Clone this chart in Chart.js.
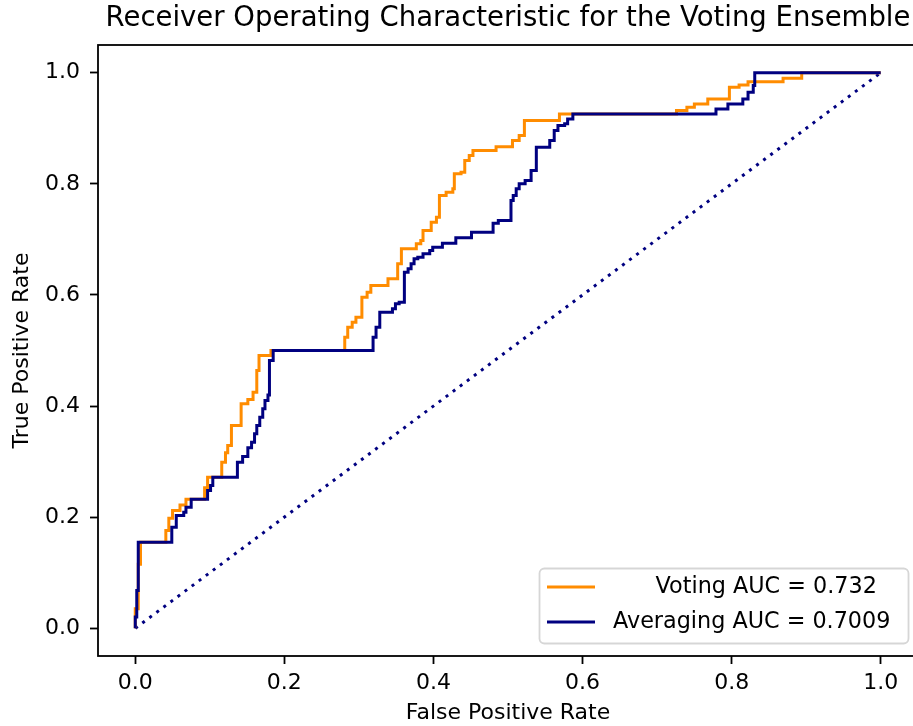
<!DOCTYPE html>
<html>
<head>
<meta charset="utf-8">
<script src="https://cdn.jsdelivr.net/npm/chart.js@4/dist/chart.umd.min.js"></script>
<style>
html,body{margin:0;padding:0;background:#fff;overflow:hidden;}
#wrap{width:920px;height:726px;}
</style>
</head>
<body>
<div id="wrap"><canvas id="c" width="920" height="726"></canvas></div>
<script>
const titleText = 'Receiver Operating Characteristic for the Voting Ensemble';
const xAxisLabel = 'False Positive Rate';
const yAxisLabel = 'True Positive Rate';
const seriesLabels = ['      Voting AUC = 0.732', 'Averaging AUC = 0.7009'];
const seriesColors = ['#ff8c00', '#000080'];
const chanceColor = '#000080';

// ROC step points: at each fpr the tpr rises to the given value
const votingFpr = [0,0,0.004,0.007,0.041,0.045,0.05,0.06,0.068,0.093,0.097,0.116,0.121,0.124,0.129,0.142,0.151,0.158,0.163,0.166,0.182,
  0.281,0.285,0.291,0.296,0.304,0.311,0.316,0.339,0.352,0.357,0.377,0.383,0.386,0.397,0.404,0.408,0.417,0.426,0.428,0.437,0.442,0.448,0.453,
  0.484,0.506,0.515,0.522,0.569,0.726,0.74,0.75,0.768,0.797,0.81,0.822,0.869,0.894,1.0];
const votingTpr = [0,0.035,0.115,0.155,0.176,0.198,0.212,0.222,0.232,0.253,0.272,0.299,0.316,0.329,0.365,0.404,0.412,0.425,0.464,0.491,0.5,
  0.524,0.542,0.551,0.56,0.596,0.605,0.617,0.629,0.656,0.683,0.692,0.698,0.716,0.731,0.74,0.779,0.785,0.791,0.818,0.821,0.842,0.851,0.86,
  0.867,0.878,0.887,0.914,0.926,0.932,0.938,0.944,0.953,0.974,0.978,0.984,0.99,1.0,1.0];

const averagingFpr = [0,0,0.002,0.004,0.049,0.055,0.065,0.068,0.075,0.097,0.101,0.104,0.137,0.144,0.151,0.156,0.16,0.163,0.167,0.171,0.174,0.178,0.18,0.185,
  0.319,0.323,0.328,0.345,0.349,0.354,0.361,0.366,0.37,0.374,0.379,0.386,0.395,0.399,0.412,0.43,0.451,0.48,0.487,0.504,0.507,0.511,0.515,0.523,0.531,0.538,
  0.556,0.562,0.567,0.576,0.58,0.587,0.779,0.795,0.815,0.822,0.829,0.831,1.0];
const averagingTpr = [0,0.02,0.068,0.155,0.182,0.203,0.209,0.218,0.232,0.248,0.257,0.272,0.299,0.309,0.325,0.335,0.35,0.365,0.38,0.395,0.41,0.42,0.482,0.5,
  0.524,0.542,0.569,0.575,0.584,0.587,0.641,0.647,0.656,0.665,0.668,0.674,0.68,0.686,0.693,0.703,0.713,0.729,0.734,0.77,0.779,0.791,0.8,0.806,0.824,0.866,
  0.878,0.896,0.905,0.908,0.917,0.926,0.935,0.944,0.953,0.965,0.977,1.0,1.0];

const chanceFpr = [0, 1];
const chanceTpr = [0, 1];

const xTickValues = [0, 0.2, 0.4, 0.6, 0.8, 1.0];
const yTickValues = [0, 0.2, 0.4, 0.6, 0.8, 1.0];

const FONT = 'DejaVu Sans';
const toPts = (xs, ys) => xs.map((x, i) => ({x: x, y: ys[i]}));

const framePlugin = {
  id: 'frame',
  afterDatasetsDraw(chart) {
    const a = chart.chartArea, c = chart.ctx;
    c.save();
    c.strokeStyle = '#000';
    c.lineWidth = 1.8;
    c.strokeRect(a.left, a.top, a.right - a.left, a.bottom - a.top);
    c.restore();
  }
};

const legendPlugin = {
  id: 'boxLegend',
  afterDraw(chart) {
    const a = chart.chartArea, ctx = chart.ctx;
    const w = 369, h = 75;
    const x0 = a.right - 10 - w, y0 = a.bottom - 13 - h;
    ctx.save();
    ctx.beginPath();
    ctx.roundRect(x0 + 0.5, y0 + 0.5, w, h, 5);
    ctx.fillStyle = 'rgba(255,255,255,0.8)';
    ctx.fill();
    ctx.strokeStyle = 'rgba(204,204,204,0.8)';
    ctx.lineWidth = 1.8;
    ctx.stroke();
    ctx.font = '22.3px "' + FONT + '"';
    ctx.textBaseline = 'middle';
    chart.data.datasets.slice(0, 2).forEach((ds, i) => {
      const cy = y0 + 19 + i * 35;
      ctx.beginPath();
      ctx.moveTo(x0 + 8, cy);
      ctx.lineTo(x0 + 56, cy);
      ctx.strokeStyle = ds.borderColor;
      ctx.lineWidth = 3;
      ctx.stroke();
      ctx.fillStyle = '#000';
      ctx.fillText(ds.label, x0 + 74, cy);
    });
    ctx.restore();
  }
};

const tickFmt = v => Number(v).toFixed(1);

new Chart(document.getElementById('c'), {
  type: 'line',
  data: {
    datasets: [
      {label: seriesLabels[0], data: toPts(votingFpr, votingTpr), borderColor: seriesColors[0], backgroundColor: seriesColors[0],
       borderWidth: 3, pointRadius: 0, stepped: true, tension: 0, fill: false, order: 1},
      {label: seriesLabels[1], data: toPts(averagingFpr, averagingTpr), borderColor: seriesColors[1], backgroundColor: seriesColors[1],
       borderWidth: 3, pointRadius: 0, stepped: true, tension: 0, fill: false, order: 0},
      {label: 'chance', data: toPts(chanceFpr, chanceTpr), borderColor: chanceColor, borderDash: [3, 5.8],
       borderWidth: 3, pointRadius: 0, tension: 0, fill: false, order: 2}
    ]
  },
  options: {
    responsive: false,
    animation: false,
    devicePixelRatio: 1,
    layout: {padding: {left: 0, right: 2, top: 0, bottom: 0}},
    plugins: {
      legend: {display: false},
      tooltip: {enabled: false},
      title: {display: true, text: titleText, fullSize: false, color: '#000',
              font: {family: FONT, size: 27.5, weight: 'normal'}, padding: {top: 2.5, bottom: 9.5}}
    },
    scales: {
      x: {
        type: 'linear', min: -0.05, max: 1.05,
        afterBuildTicks: s => { s.ticks = xTickValues.map(v => ({value: v})); },
        afterFit: s => { s.height = 70; },
        border: {display: false},
        grid: {display: true, drawOnChartArea: false, drawTicks: true, tickLength: 8, tickWidth: 1.8, tickColor: '#000'},
        ticks: {font: {family: FONT, size: 22}, color: '#000', padding: 6, maxRotation: 0, autoSkip: false, callback: tickFmt},
        title: {display: true, text: xAxisLabel, color: '#000', font: {family: FONT, size: 22}, padding: {top: 0, bottom: 0}}
      },
      y: {
        type: 'linear', min: -0.05, max: 1.05,
        afterBuildTicks: s => { s.ticks = yTickValues.map(v => ({value: v})); },
        afterFit: s => { s.width = 98; },
        border: {display: false},
        grid: {display: true, drawOnChartArea: false, drawTicks: true, tickLength: 8, tickWidth: 1.8, tickColor: '#000'},
        ticks: {font: {family: FONT, size: 22}, color: '#000', padding: 10, autoSkip: false, callback: tickFmt},
        title: {display: true, text: yAxisLabel, color: '#000', font: {family: FONT, size: 22}, padding: {top: 9, bottom: 0}}
      }
    }
  },
  plugins: [framePlugin, legendPlugin]
});
</script>
</body>
</html>
